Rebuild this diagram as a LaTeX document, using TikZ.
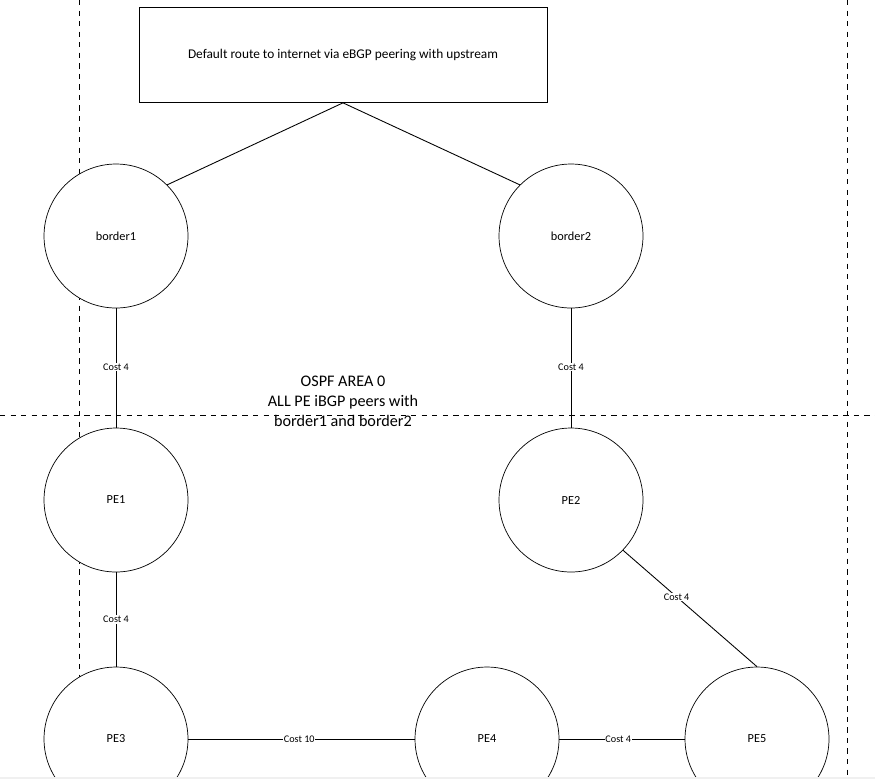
\documentclass[tikz,border=0pt]{standalone}
\usepackage{fontspec}
\setmainfont{Carlito}
\usepackage{xcolor}
\usetikzlibrary{shapes.geometric}

\begin{document}
\begin{tikzpicture}[x=0.02cm,y=-0.02cm,
    router/.style={circle,draw,fill=white,minimum size=2.88cm,inner sep=0pt,font=\fontsize{7}{8}\selectfont},
    link/.style={draw,line width=.5pt},
    cost/.style={fill=white,inner sep=.5pt,font=\fontsize{5.8}{6}\selectfont},
    area/.style={dashed,line width=.5pt}]
  \useasboundingbox (0,0) rectangle (875,779);
  \fill[gray!12] (0,776.5) rectangle (875,779);
  \begin{scope}
  \clip (0,0) rectangle (875,776.5);
  \draw[area] (79,0) -- (79,776.5);
  \draw[area] (847,0) -- (847,776.5);
  \draw[area] (0,415) -- (875,415);
  \node (up) [draw,fill=white,minimum width=8.16cm,minimum height=1.9cm,font=\fontsize{7.6}{8}\selectfont]
    at (343,55) {Default route to internet via eBGP peering with upstream};
  \node (ospf) [align=center,font=\fontsize{9.2}{11.4}\selectfont] at (343,401)
    {OSPF AREA 0\\ALL PE iBGP peers with\\border1 and border2};
  \node (b1) [router] at (116,236) {border1};
  \node (b2) [router] at (571,236) {border2};
  \node (pe1) [router] at (116,500) {PE1};
  \node (pe2) [router] at (571,500) {PE2};
  \node (pe3) [router] at (116,739) {PE3};
  \node (pe4) [router] at (487,739) {PE4};
  \node (pe5) [router] at (757,739) {PE5};
  \draw[link] (up.south) -- (b1.45);
  \draw[link] (up.south) -- (b2.135);
  \draw[link] (b1) -- node[cost,pos=.49] {Cost 4} (pe1);
  \draw[link] (b2) -- node[cost,pos=.49] {Cost 4} (pe2);
  \draw[link] (pe1) -- node[cost,pos=.5] {Cost 4} (pe3);
  \draw[link] (pe2.-44) -- node[cost,pos=.4] {Cost 4} (pe5.north);
  \draw[link] (pe3) -- node[cost,pos=.49] {Cost 10} (pe4);
  \draw[link] (pe4) -- node[cost,pos=.47] {Cost 4} (pe5);
  \end{scope}
\end{tikzpicture}
\end{document}
